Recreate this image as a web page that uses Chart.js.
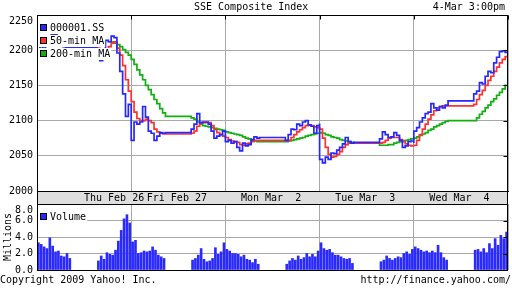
<!DOCTYPE html>
<html>
<head>
<meta charset="utf-8">
<script src="https://cdn.jsdelivr.net/npm/chart.js@4.4.1/dist/chart.umd.min.js"></script>
<style>
  html, body { margin: 0; padding: 0; background: #fff; }
  #wrap { position: relative; width: 512px; height: 288px; overflow: hidden;
          font: 10px "DejaVu Sans Mono", monospace; color: #000; }
  #priceChart { position: absolute; left: 0; top: 0; }
  #volumeChart { position: absolute; left: 0; top: 193px; }
  .txt { position: absolute; white-space: pre; line-height: 12px; }
</style>
</head>
<body>
<div id="wrap">
  <canvas id="priceChart" width="512" height="206"></canvas>
  <canvas id="volumeChart" width="512" height="95"></canvas>
  <div class="txt" style="left:194px; top:1px;">SSE Composite Index</div>
  <div class="txt" style="right:7px; top:1px;">4-Mar 3:00pm</div>
  <div class="txt" style="left:0; top:274px;">Copyright 2009 Yahoo! Inc.</div>
  <div class="txt" style="right:1px; top:274px;">http://finance.yahoo.com/</div>
</div>
<script>
// --- data ---
const dayLabels = ['Thu Feb 26', 'Fri Feb 27', 'Mon Mar  2', 'Tue Mar  3', 'Wed Mar  4'];

// price samples every 10 minutes, morning session then afternoon session
const slotTimes = ['09:30', '09:40', '09:50', '10:00', '10:10', '10:20', '10:30', '10:40', '10:50',
                   '11:00', '11:10', '11:20', '11:30',
                   '13:00', '13:10', '13:20', '13:30', '13:40', '13:50', '14:00', '14:10', '14:20',
                   '14:30', '14:40', '14:50', '15:00'];

const price = [
  2200, 2205, 2203, 2212, 2220, 2223, 2222, 2215, 2208, 2205, 2204, 2204, 2204,
  2190, 2185, 2200, 2214, 2212, 2220, 2218, 2196, 2170, 2138, 2106, 2123, 2118,
  2072, 2098, 2095, 2098, 2120, 2105, 2085, 2082, 2072, 2078, 2083, 2082, 2083,
  2088, 2095, 2110, 2097, 2098, 2098, 2095, 2085, 2075, 2078, 2080, 2085, 2082,
  2070, 2072, 2068, 2070, 2062, 2057, 2068, 2064, 2066, 2073, 2077, 2075, 2076,
  2072, 2080, 2088, 2087, 2095, 2093, 2098, 2100, 2094, 2092, 2082, 2093, 2096,
  2045, 2040, 2048, 2045, 2054, 2053, 2058, 2062, 2067, 2076, 2070, 2068, 2069,
  2074, 2084, 2080, 2076, 2077, 2083, 2079, 2072, 2062, 2064, 2070, 2071, 2068,
  2085, 2090, 2098, 2104, 2110, 2112, 2124, 2118, 2115, 2120, 2118, 2122, 2128,
  2138, 2142, 2154, 2152, 2163, 2170, 2168, 2182, 2190, 2198, 2199, 2197, 2198
];

const ma50 = [
  null, null, null, null, null, 2222, 2221, 2219, 2214, 2210, 2206, 2205, 2205,
  2203, 2200, 2200, 2202, 2205, 2210, 2212, 2203, 2193, 2178, 2158, 2142, 2130,
  2127, 2112, 2103, 2100, 2100, 2102, 2100, 2097, 2088, 2084, 2082, 2081, 2081,
  2082, 2085, 2092, 2096, 2097, 2097, 2097, 2093, 2087, 2083, 2080, 2078, 2077,
  2076, 2073, 2071, 2070, 2069, 2066, 2065, 2067, 2068, 2070, 2072, 2072, 2072,
  2071, 2072, 2076, 2080, 2084, 2087, 2090, 2093, 2094, 2093, 2091, 2090, 2091,
  2088, 2075, 2062, 2052, 2048, 2049, 2052, 2056, 2062, 2066, 2068, 2068, 2068,
  2068, 2069, 2072, 2075, 2076, 2076, 2076, 2073, 2070, 2067, 2065, 2064, 2064,
  2065, 2072, 2080, 2088, 2095, 2102, 2108, 2114, 2118, 2120, 2121, 2121, 2121,
  2123, 2130, 2137, 2143, 2150, 2157, 2163, 2170, 2176, 2182, 2187, 2191, 2195
];

const ma200 = [
  null, null, null, null, null, null, null, null, null, null, null, null, null,
  null, null, null, null, 2212, 2212, 2210, 2208, 2205, 2201, 2197, 2193, 2188,
  2187, 2180, 2172, 2165, 2158, 2150, 2144, 2137, 2130, 2124, 2117, 2111, 2106,
  2104, 2102, 2098, 2095, 2093, 2092, 2091, 2090, 2089, 2088, 2087, 2086, 2085,
  2084, 2083, 2082, 2081, 2080, 2079, 2077, 2075, 2074, 2072, 2071, 2070, 2070,
  2070, 2071, 2072, 2073, 2074, 2075, 2076, 2078, 2079, 2080, 2081, 2082, 2083,
  2083, 2082, 2080, 2079, 2077, 2076, 2075, 2073, 2072, 2071, 2070, 2069, 2068,
  2065, 2065, 2065, 2066, 2066, 2068, 2069, 2070, 2071, 2072, 2073, 2074, 2075,
  2075, 2077, 2079, 2081, 2083, 2086, 2088, 2091, 2093, 2095, 2097, 2099, 2100,
  2100, 2104, 2109, 2113, 2118, 2122, 2127, 2131, 2136, 2140, 2145, 2150, 2154
];

// volume in millions, one bar per 10 minutes
const volume = [
  3.3, 3.1, 2.8, 2.6, 3.9, 2.9, 2.2, 2.3, 1.7, 1.6, 2.0, 1.4,
  1.1, 1.7, 1.3, 2.1, 1.9, 1.8, 2.4, 3.5, 4.8, 6.2, 6.7, 5.7,
  3.4, 3.6, 2.0, 2.1, 2.3, 2.2, 2.3, 2.8, 2.4, 1.8, 1.6, 1.4,
  1.2, 1.4, 1.8, 2.6, 1.3, 1.0, 1.1, 1.4, 2.7, 1.9, 2.2, 3.3,
  2.5, 2.3, 2.0, 2.0, 1.9, 1.6, 1.8, 1.3, 1.2, 0.9, 1.3, 0.7,
  0.7, 1.1, 1.4, 1.2, 1.7, 1.3, 1.5, 2.0, 1.6, 1.9, 1.6, 2.3,
  3.3, 2.6, 2.4, 2.5, 2.1, 1.8, 1.8, 1.6, 1.4, 1.3, 1.4, 0.8,
  1.0, 1.2, 1.7, 1.4, 1.2, 1.4, 1.6, 1.5, 2.0, 2.2, 1.9, 2.5,
  2.8, 2.6, 2.4, 2.2, 2.3, 2.1, 2.3, 2.1, 3.0, 2.1, 1.5, 1.2,
  2.4, 2.5, 2.2, 2.6, 2.1, 3.2, 2.6, 3.8, 3.0, 4.2, 3.8, 4.6
];

// --- helpers ---
const DAY_LEN = 330; // 09:30 .. 15:00 in minutes
const FONT = { family: 'DejaVu Sans Mono', size: 10 };
const FONT_CSS = '10px "DejaVu Sans Mono"';
const GRID = '#a8a8a8';

function toMin(t) {
  const [h, m] = t.split(':').map(Number);
  return h * 60 + m - 570;
}

function seriesPoints(values) {
  const n = slotTimes.length;
  return values.map((v, i) => ({ x: Math.floor(i / n) * DAY_LEN + toMin(slotTimes[i % n]), y: v }));
}

const barStarts = slotTimes.filter(t => t !== '11:30' && t !== '15:00');
const volumePoints = volume.map((v, i) => ({
  x: Math.floor(i / barStarts.length) * DAY_LEN + toMin(barStarts[i % barStarts.length]) + 5,
  y: v
}));

const dayBounds = dayLabels.map((_, d) => d * DAY_LEN).concat(dayLabels.length * DAY_LEN);
const labelAt = dayLabels.map((_, d) => d * DAY_LEN + 160 + (d === 0 ? 110 : 0));

// frame, small black ticks, the top y label and the grey date band
const framePlugin = {
  id: 'frame',
  beforeDraw(chart, args, opts) {
    if (!opts.band) return;
    const a = chart.chartArea, ctx = chart.ctx;
    ctx.save();
    ctx.fillStyle = '#dedede';
    ctx.fillRect(a.left, a.bottom, a.right - a.left, opts.band);
    ctx.restore();
  },
  afterDraw(chart, args, opts) {
    const a = chart.chartArea, ctx = chart.ctx, ys = chart.scales.y;
    const L = Math.round(a.left) + 0.5, R = Math.round(a.right) - 0.5;
    const T = Math.round(a.top) + 0.5, B = Math.round(a.bottom) + 0.5;
    ctx.save();
    ctx.strokeStyle = '#000';
    ctx.lineWidth = 1;
    ctx.strokeRect(L, T, R - L, B - T);
    if (opts.band) ctx.strokeRect(L, B, R - L, opts.band - 1);
    // short ticks on the right edge at every y gridline
    ctx.beginPath();
    ys.ticks.forEach(t => {
      const y = Math.round(ys.getPixelForValue(t.value)) + 0.5;
      ctx.moveTo(R - 4, y);
      ctx.lineTo(R, y);
    });
    // and on the top edge at day boundaries
    if (opts.topTicks) {
      dayBounds.forEach(v => {
        const x = Math.round(chart.scales.x.getPixelForValue(v)) + 0.5;
        ctx.moveTo(x, T);
        ctx.lineTo(x, T + 4);
      });
    }
    ctx.stroke();
    // the top tick label sits just below the top edge
    const top = ys.ticks[ys.ticks.length - 1];
    ctx.font = FONT_CSS;
    ctx.fillStyle = '#000';
    ctx.textAlign = 'right';
    ctx.textBaseline = 'middle';
    ctx.fillText(opts.fmt(top.value), a.left - 4, a.top + 6);
    ctx.restore();
  }
};

// legend boxes drawn inside the plot, top-left
const boxLegend = {
  id: 'boxLegend',
  afterDatasetsDraw(chart, args, opts) {
    const a = chart.chartArea, ctx = chart.ctx;
    ctx.save();
    ctx.font = FONT_CSS;
    ctx.textBaseline = 'middle';
    chart.data.datasets.forEach((ds, i) => {
      const y = Math.round(a.top + opts.top + i * 13);
      const x = Math.round(a.left);
      const w = ctx.measureText(ds.label).width;
      ctx.fillStyle = '#fff';
      ctx.fillRect(x + 1, y - 6, w + 13, 12);
      ctx.fillStyle = ds.legendColor;
      ctx.fillRect(x + 3, y - 4, 7, 7);
      ctx.strokeStyle = '#000';
      ctx.strokeRect(x + 3.5, y - 3.5, 6, 6);
      ctx.fillStyle = '#000';
      ctx.fillText(ds.label, x + 13, y);
    });
    ctx.restore();
  }
};

function lineSet(label, data, color) {
  return {
    label, data: seriesPoints(data), borderColor: color, legendColor: color,
    borderWidth: 1.7, stepped: true, pointRadius: 0, spanGaps: false, tension: 0
  };
}

const priceFmt = v => String(v);
const volFmt = v => v.toFixed(1);

new Chart(document.getElementById('priceChart'), {
  type: 'line',
  data: {
    datasets: [
      lineSet('000001.SS', price, '#2626ff'),
      lineSet('50-min MA', ma50, '#ff3030'),
      lineSet('200-min MA', ma200, '#10b010')
    ]
  },
  options: {
    responsive: false,
    animation: false,
    layout: { padding: { top: 15, right: 4, bottom: 1, left: 0 } },
    plugins: {
      legend: { display: false },
      tooltip: { enabled: false },
      frame: { band: 14, topTicks: true, fmt: priceFmt },
      boxLegend: { top: 13 }
    },
    scales: {
      x: {
        type: 'linear', min: 0, max: DAY_LEN * dayLabels.length,
        afterFit: s => { s.height = 14; },
        afterBuildTicks: s => { s.ticks = dayBounds.concat(labelAt).map(v => ({ value: v })); },
        grid: {
          drawTicks: false,
          color: c => (c.tick && c.tick.value % DAY_LEN === 0) ? GRID : 'rgba(0,0,0,0)'
        },
        border: { color: '#000' },
        ticks: {
          autoSkip: false, maxRotation: 0, padding: 1, font: FONT, color: '#000',
          callback: v => { const i = labelAt.indexOf(v); return i >= 0 ? dayLabels[i] : ''; }
        }
      },
      y: {
        min: 2000, max: 2250,
        afterFit: s => { s.width = 37; },
        ticks: { stepSize: 50, padding: 4, font: FONT, color: '#000',
                 callback: v => v === 2250 ? '' : priceFmt(v) },
        grid: { color: GRID, drawTicks: false },
        border: { color: '#000' }
      }
    }
  },
  plugins: [framePlugin, boxLegend]
});

new Chart(document.getElementById('volumeChart'), {
  type: 'bar',
  data: {
    datasets: [{
      label: 'Volume', data: volumePoints, backgroundColor: '#2a2aff', legendColor: '#2a2aff',
      barThickness: 2, borderWidth: 0
    }]
  },
  options: {
    responsive: false,
    animation: false,
    layout: { padding: { top: 11, right: 4, bottom: 18, left: 0 } },
    plugins: {
      legend: { display: false },
      tooltip: { enabled: false },
      frame: { fmt: volFmt },
      boxLegend: { top: 13 }
    },
    scales: {
      x: {
        type: 'linear', min: 0, max: DAY_LEN * dayLabels.length, offset: false,
        afterFit: s => { s.height = 0; },
        afterBuildTicks: s => { s.ticks = dayBounds.map(v => ({ value: v })); },
        ticks: { display: false },
        grid: { color: GRID, drawTicks: false, offset: false },
        border: { display: false }
      },
      y: {
        min: 0, max: 8,
        afterFit: s => { s.width = 37; },
        ticks: { stepSize: 2, padding: 4, font: FONT, color: '#000',
                 callback: v => v === 8 ? '' : volFmt(v) },
        title: { display: true, text: 'Millions', font: FONT, color: '#000', padding: { top: 2, bottom: 0 } },
        grid: { color: GRID, drawTicks: false },
        border: { color: '#000' }
      }
    }
  },
  plugins: [framePlugin, boxLegend]
});
</script>
</body>
</html>
